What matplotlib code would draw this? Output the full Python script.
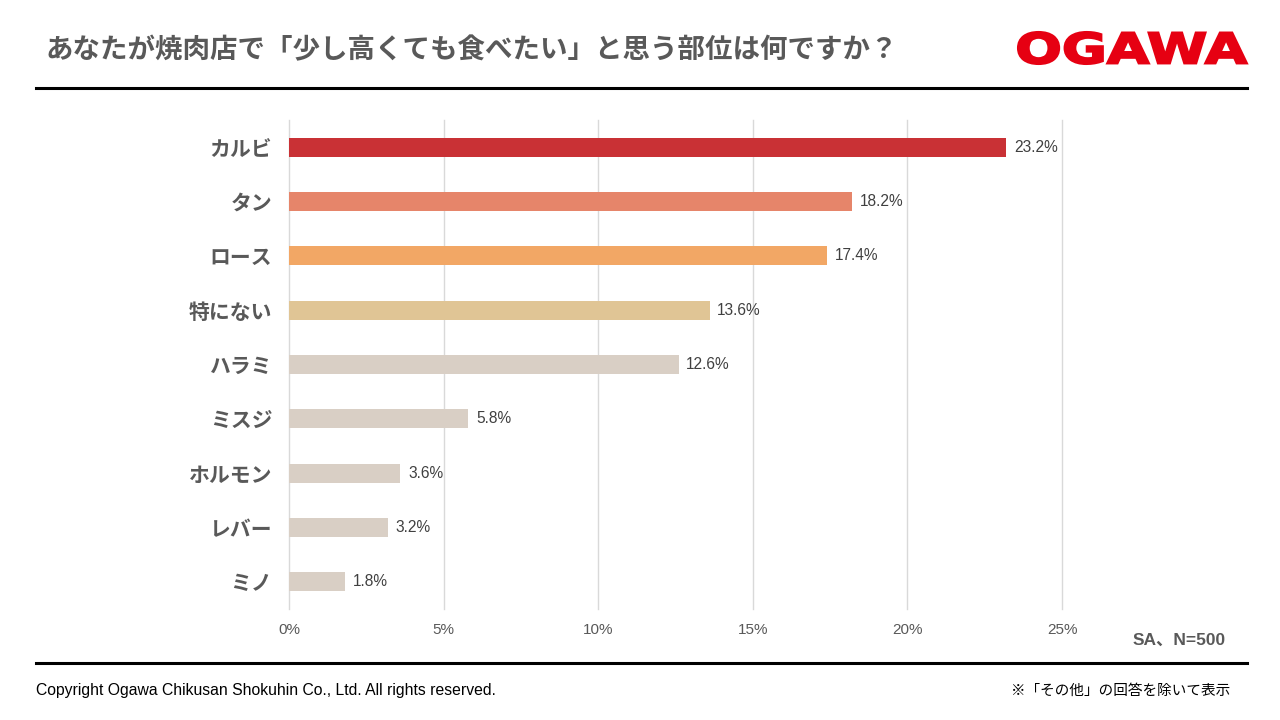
import matplotlib
matplotlib.use("Agg")
import matplotlib.pyplot as plt
from matplotlib.lines import Line2D
from matplotlib.textpath import TextPath
from matplotlib.patches import PathPatch
from matplotlib.font_manager import FontProperties
from matplotlib.transforms import Affine2D, IdentityTransform

plt.rcParams['font.family'] = ['Noto Sans CJK JP', 'DejaVu Sans']

categories = ["カルビ", "タン", "ロース", "特にない", "ハラミ", "ミスジ", "ホルモン", "レバー", "ミノ"]
values = [23.2, 18.2, 17.4, 13.6, 12.6, 5.8, 3.6, 3.2, 1.8]
colors = ["#C93135", "#E6856A", "#F2A765", "#E0C595", "#D9CFC5", "#D9CFC5", "#D9CFC5", "#D9CFC5", "#D9CFC5"]
xticks = [0, 5, 10, 15, 20, 25]

W, H = 1280, 720
fig = plt.figure(figsize=(12.8, 7.2), dpi=100)

def fx(px): return px / W
def fy(py): return 1 - py / H

ax = fig.add_axes([fx(289), fy(609), fx(1062) - fx(289), fy(120) - fy(609)])
y = list(range(len(categories)))
ax.barh(y, values, height=0.35, color=colors, zorder=3)
ax.set_ylim(len(categories) - 0.5, -0.5)
ax.set_xlim(0, 25)
ax.set_xticks(xticks)
ax.set_xticklabels([f"{t}%" for t in xticks], fontsize=11, color="#595959", family=['Liberation Sans', 'DejaVu Sans'])
ax.set_yticks(y)
ax.set_yticklabels(categories, fontsize=15, fontweight='bold', color="#595959")
ax.tick_params(axis='both', length=0)
ax.tick_params(axis='x', pad=10)
ax.tick_params(axis='y', pad=12)
ax.grid(axis='x', color="#D9D9D9", linewidth=1, zorder=0)
for gl in ax.get_xgridlines():
    gl.set_clip_on(False)
for s in ax.spines.values():
    s.set_visible(False)
for yi, v in zip(y, values):
    ax.text(v + 0.25, yi, f"{v}%", va='center', ha='left', fontsize=11.2, color="#404040",
            family=['Liberation Sans', 'DejaVu Sans'])

fig.text(fx(45), fy(50), "あなたが焼肉店で「少し高くても食べたい」と思う部位は何ですか？",
         fontsize=19.8, fontweight='bold', color="#595959", va='center', ha='left')

# logo text fitted into its box
tp = TextPath((0, 0), "OGAWA", size=40, prop=FontProperties(family='DejaVu Sans', weight='bold'))
bb = tp.get_extents()
x0, x1, ytop, ybot = 1018, 1247, 32, 64
sx = (x1 - x0) / bb.width
sy = (ybot - ytop) / bb.height
tr = Affine2D().translate(-bb.x0, -bb.y0).scale(sx, sy).translate(x0, H - ybot)
logo = PathPatch(tr.transform_path(tp), facecolor="#E60012", edgecolor="#E60012", linewidth=1.5,
                 transform=IdentityTransform())
fig.add_artist(logo)

fig.add_artist(Line2D([fx(36), fx(1247)], [fy(88), fy(88)], color="black", linewidth=2.2))
fig.add_artist(Line2D([fx(36), fx(1247)], [fy(663), fy(663)], color="black", linewidth=2.2))

fig.text(fx(1226), fy(640), "SA、N=500", fontsize=12.5, fontweight='bold', color="#595959",
         va='center', ha='right', family=['Liberation Sans', 'Noto Sans CJK JP'])
fig.text(fx(36), fy(691), "Copyright Ogawa Chikusan Shokuhin Co., Ltd. All rights reserved.",
         fontsize=11.3, color="#000000", va='center', ha='left', family=['Liberation Sans', 'DejaVu Sans'])
fig.text(fx(1230), fy(691), "※「その他」の回答を除いて表示", fontsize=10.5, color="#000000",
         va='center', ha='right')

fig.savefig("out.png", dpi=100)
